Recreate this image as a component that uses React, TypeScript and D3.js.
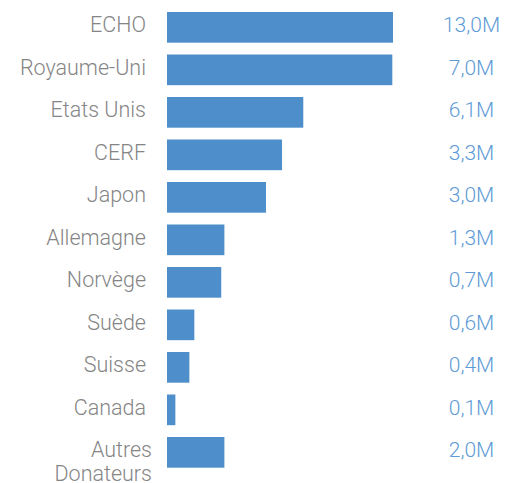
import React from "react";
import * as d3 from "d3";

const categories = [
  "ECHO",
  "Royaume-Uni",
  "Etats Unis",
  "CERF",
  "Japon",
  "Allemagne",
  "Norvège",
  "Suède",
  "Suisse",
  "Canada",
  "Autres Donateurs",
];
// bar lengths as drawn, relative to ECHO = 100
const barValues = [100, 99.7, 60.3, 50.9, 43.8, 25.4, 24.0, 12.1, 9.9, 3.7, 25.4];
const valueLabels = [
  "13,0M",
  "7,0M",
  "6,1M",
  "3,3M",
  "3,0M",
  "1,3M",
  "0,7M",
  "0,6M",
  "0,4M",
  "0,1M",
  "2,0M",
];

const W = 516;
const H = 483;
const FONT = "Roboto, 'Noto Sans', sans-serif";

export default function App() {
  const pad = 0.278;
  const y = d3
    .scaleBand<string>()
    .domain(categories)
    .range([6.1, 473.6])
    .paddingInner(pad)
    .paddingOuter(pad / 2);
  const x = d3.scaleLinear().domain([0, 100]).range([167, 393]);
  const labelX = 146;
  const valueX = 471.5;

  return (
    <svg
      width={W}
      height={H}
      style={{ position: "absolute", left: 0, top: 0, background: "#fff" }}
    >
      {categories.map((c, i) => {
        const y0 = y(c)!;
        const cy = y0 + y.bandwidth() / 2;
        const words = c === "Autres Donateurs" ? ["Autres", "Donateurs"] : [c];
        return (
          <g key={c}>
            <rect
              x={x(0)}
              y={y0}
              width={x(barValues[i]) - x(0)}
              height={y.bandwidth()}
              fill="#4e8fcb"
            />
            <text
              x={labelX}
              y={cy + 5}
              textAnchor="end"
              fontFamily={FONT}
              fontWeight={300}
              fontSize={21.5}
              fill="#858585"
            >
              {words.map((w, k) => (
                <tspan key={k} x={labelX + (words.length > 1 ? 6 : 0)} dy={k === 0 ? 0 : 23.5}>
                  {w}
                </tspan>
              ))}
            </text>
            <text
              x={valueX}
              y={cy + 5}
              textAnchor="middle"
              fontFamily={FONT}
              fontWeight={300}
              fontSize={21}
              fill="#5e9bd6"
            >
              {valueLabels[i]}
            </text>
          </g>
        );
      })}
    </svg>
  );
}
